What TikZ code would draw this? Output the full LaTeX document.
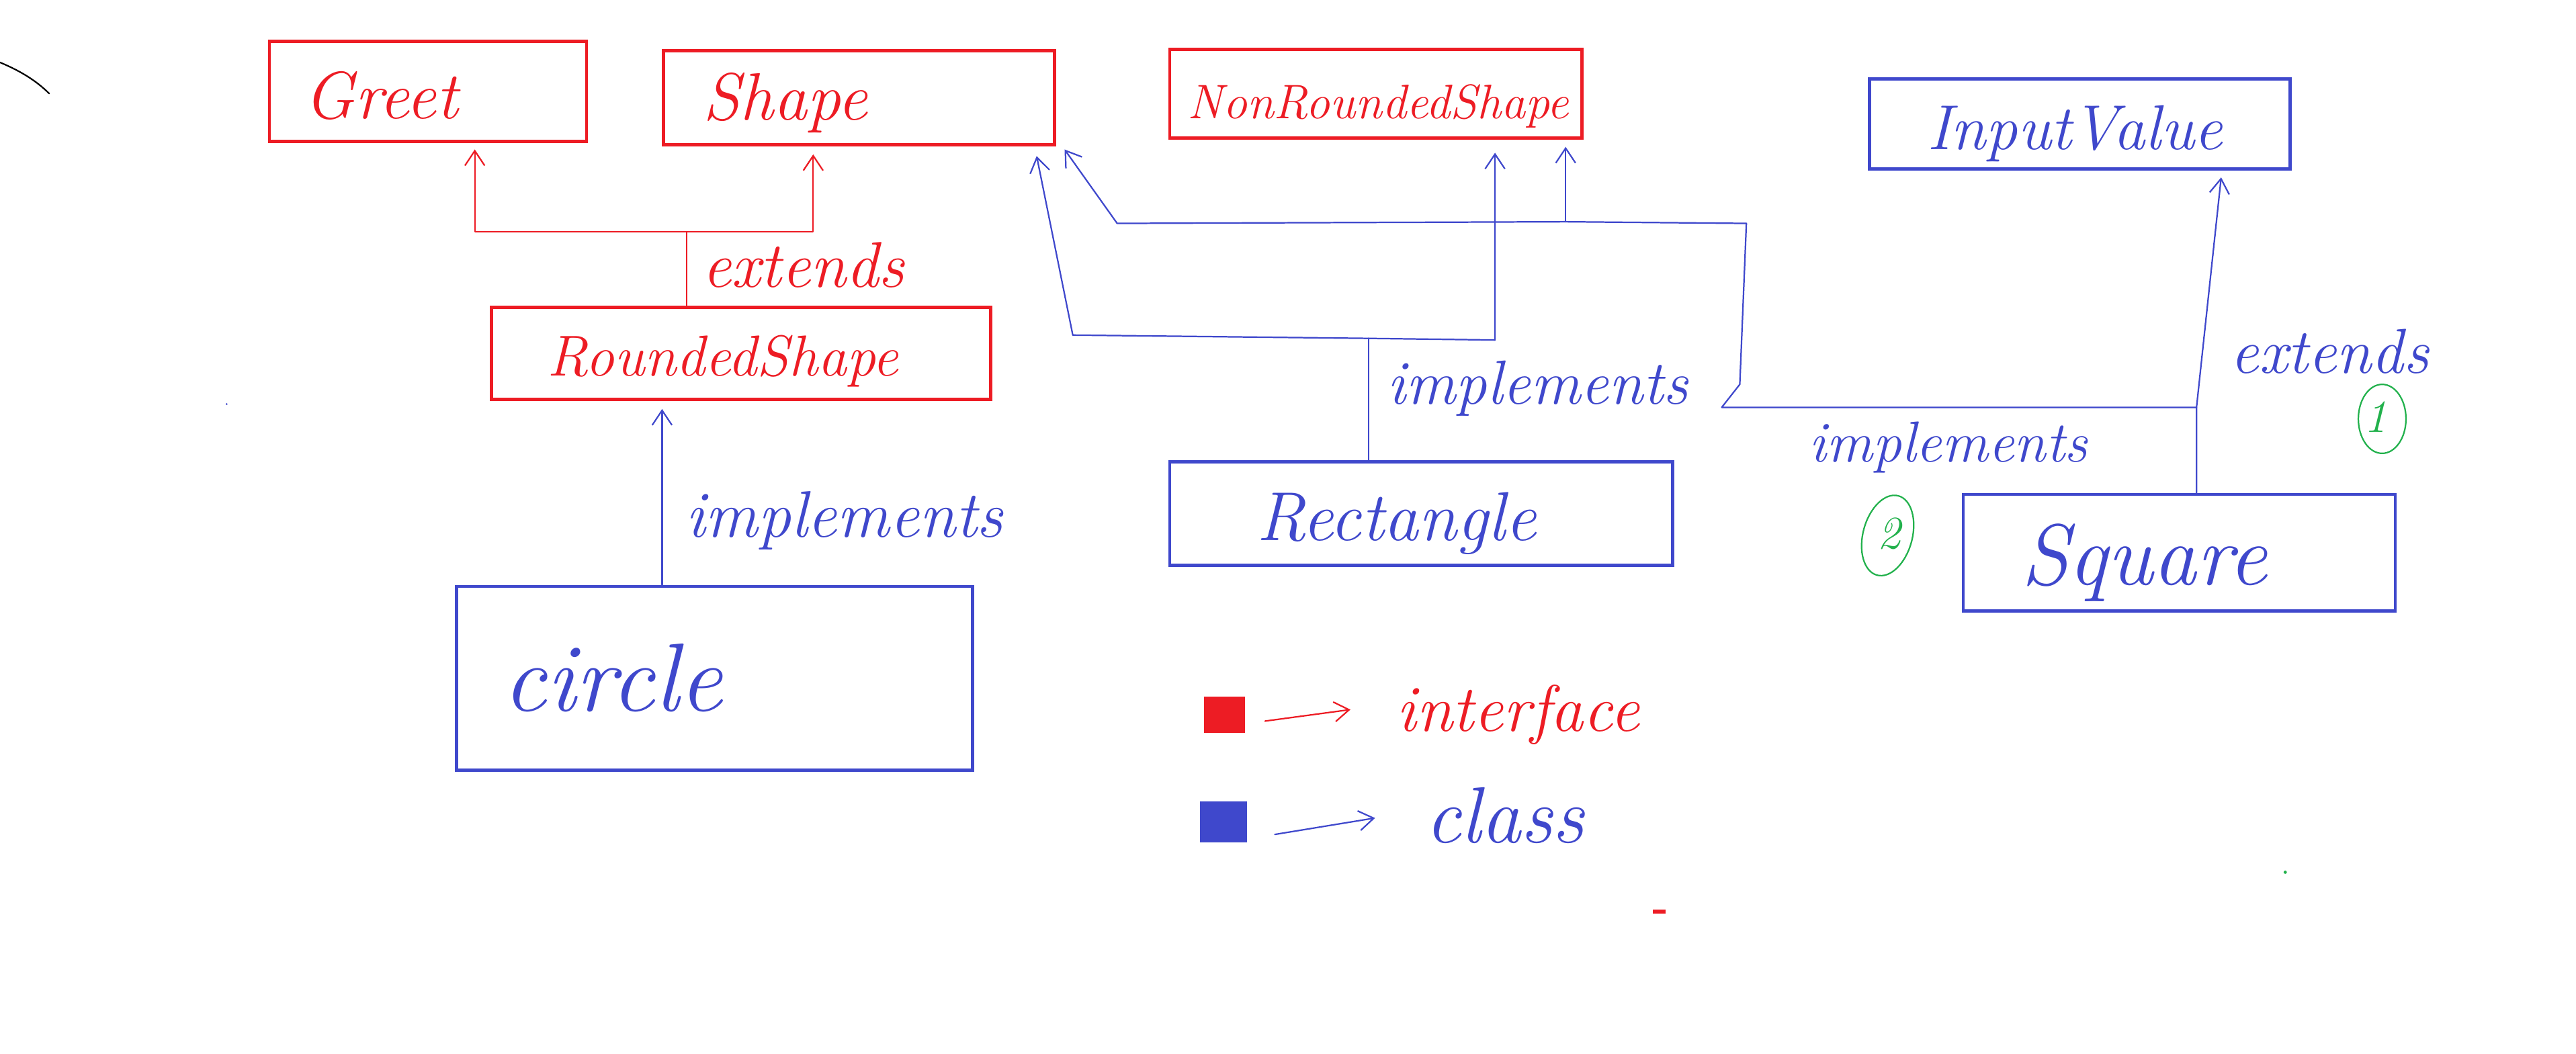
\documentclass[tikz,border=0pt]{standalone}
\usepackage{fontspec}
\usetikzlibrary{arrows.meta,shapes.geometric}
\definecolor{pred}{HTML}{ED1C24}
\definecolor{pblue}{HTML}{3F48CC}
\definecolor{pgreen}{HTML}{22B14C}
\newcommand\hwfont[1]{\fontsize{#1}{#1}\selectfont\itshape}
\tikzset{
  rbox/.style={draw=pred, line width=2.8pt, inner sep=0pt},
  bbox/.style={draw=pblue, line width=2.8pt, inner sep=0pt},
  rline/.style={draw=pred, line width=1.3pt, line join=round, line cap=round},
  bline/.style={draw=pblue, line width=1.3pt, line join=round, line cap=round},
  barb/.style={-{Straight Barb[length=4.5mm,width=6mm]}},
  lbl/.style={inner sep=0pt, anchor=base},
  rtxt/.style={lbl, text=pred},
  btxt/.style={lbl, text=pblue},
  gtxt/.style={lbl, text=pgreen},
  gring/.style={draw=pgreen, line width=1.3pt, ellipse, inner sep=0pt},
}
\begin{document}
\begin{tikzpicture}[x=0.5mm,y=-0.5mm]
\useasboundingbox[fill=white] (0,0) rectangle (1568,641.3);

% boxes
\node[rbox, minimum width=96.5mm, minimum height=30.5mm] (greet) at (260.5,55.5) {};
\node[rbox, minimum width=119mm, minimum height=28.5mm] (shape) at (523,59.5) {};
\node[rbox, minimum width=125.5mm, minimum height=27mm] (nrs) at (837.5,57) {};
\node[bbox, minimum width=128mm, minimum height=27.5mm] (input) at (1266,75.5) {};
\node[rbox, minimum width=152mm, minimum height=28mm] (rs) at (451,215) {};
\node[bbox, minimum width=157mm, minimum height=56mm] (circ) at (435,413) {};
\node[bbox, minimum width=153mm, minimum height=31.5mm] (rect) at (865,312.5) {};
\node[bbox, minimum width=131.5mm, minimum height=35.5mm] (square) at (1326.5,336.5) {};

% box texts
\node[rtxt, font=\hwfont{58}] (tgreet) at (232,72) {Greet};
\node[rtxt, font=\hwfont{58}] (tshape) at (478,73) {Shape};
\node[rtxt, font=\hwfont{42}] (tnrs) at (839,72) {NonRoundedShape};
\node[btxt, font=\hwfont{55}] (tinput) at (1263,91) {InputValue};
\node[rtxt, font=\hwfont{50}] (trs) at (440,229) {RoundedShape};
\node[btxt, font=\hwfont{84}] (tcirc) at (373,433) {circle};
\node[btxt, font=\hwfont{60}] (trect) at (850,329) {Rectangle};
\node[btxt, font=\hwfont{75}] (tsquare) at (1305,356) {Square};

% red extends connector
\coordinate (rj) at (418,141);
\coordinate (gx) at (289,0);
\coordinate (sx) at (495,0);
\draw[rline] (rj |- rs.north) -- (rj);
\draw[rline, barb, shorten >=2mm] (rj) -| (gx |- greet.south);
\draw[rline, barb, shorten >=2.5mm] (rj) -| (sx |- shape.south);
\node[rtxt, font=\hwfont{56}] (lext1) at (489,175) {extends};

% circle implements RoundedShape
\coordinate (cx) at (403,0);
\draw[bline, barb, shorten >=2.5mm] (cx |- circ.north) -- (cx |- rs.south);
\node[btxt, font=\hwfont{57}] (limp1) at (514,327) {implements};

% Rectangle implements Shape and NonRoundedShape
\coordinate (rj2) at (833,206);
\coordinate (rl) at (653,204);
\coordinate (rr) at (910,207);
\coordinate (s1) at (631,95);
\draw[bline] (rj2 |- rect.north) -- (rj2);
\draw[bline, barb] (rj2) -- (rl) -- (s1);
\draw[bline, barb, shorten >=4mm] (rj2) -- (rr) -- (rr |- nrs.south);
\node[btxt, font=\hwfont{54}] (limp2) at (936,246) {implements};

% Square extends InputValue, implements Shape and NonRoundedShape
\coordinate (qj) at (1337,248);
\coordinate (ivt) at (1352,108);
\coordinate (q1) at (1048,248);
\coordinate (q2) at (1059,234);
\coordinate (q3) at (1063,136);
\coordinate (q4) at (953,135);
\coordinate (q5) at (680,136);
\coordinate (s2) at (648,91);
\draw[bline, barb] (qj |- square.north) -- (qj) -- (ivt);
\draw[bline] (qj) -- (q1) -- (q2) -- (q3) -- (q4);
\draw[bline, barb, shorten >=2.2mm] (q4) -- (q4 |- nrs.south);
\draw[bline, barb] (q4) -- (q5) -- (s2);
\node[btxt, font=\hwfont{50}] (limp3) at (1186,281) {implements};
\node[btxt, font=\hwfont{55}] (lext2) at (1418,227) {extends};

% green markers
\node[gring, minimum width=14.5mm, minimum height=21mm] (g1) at (1450,255) {};
\node[gtxt, font=\hwfont{40}] (n1) at (1446,263) {1};
\node[gring, minimum width=15mm, minimum height=25mm, rotate=-15] (g2) at (1149,326) {};
\node[gtxt, font=\hwfont{40}] (n2) at (1150,334) {2};

% legend
\node[fill=pred, inner sep=0pt, minimum width=12.5mm, minimum height=11mm] (legr) at (745.5,435) {};
\node[fill=pblue, inner sep=0pt, minimum width=14.25mm, minimum height=12.5mm] (legb) at (744.75,500.5) {};
\coordinate (la1) at (770,439);
\coordinate (la2) at (822,432);
\coordinate (lb1) at (776,508);
\coordinate (lb2) at (837,498);
\draw[rline, barb] (la1) -- (la2);
\draw[bline, barb] (lb1) -- (lb2);
\node[rtxt, font=\hwfont{57}] (lint) at (924,445) {interface};
\node[btxt, font=\hwfont{69}] (lcls) at (916,513) {class};

% stray marks
\node[fill=pred, inner sep=0pt, minimum width=3.75mm, minimum height=1.25mm] (dash) at (1010,555) {};
\fill[pgreen] (1391,531) circle (0.5mm);
\fill[pblue] (138,246) circle (0.3mm);
\draw[black, line width=1.3pt, line cap=round] (0,38) .. controls (12,43) and (22,49) .. (30,57);
\end{tikzpicture}
\end{document}
